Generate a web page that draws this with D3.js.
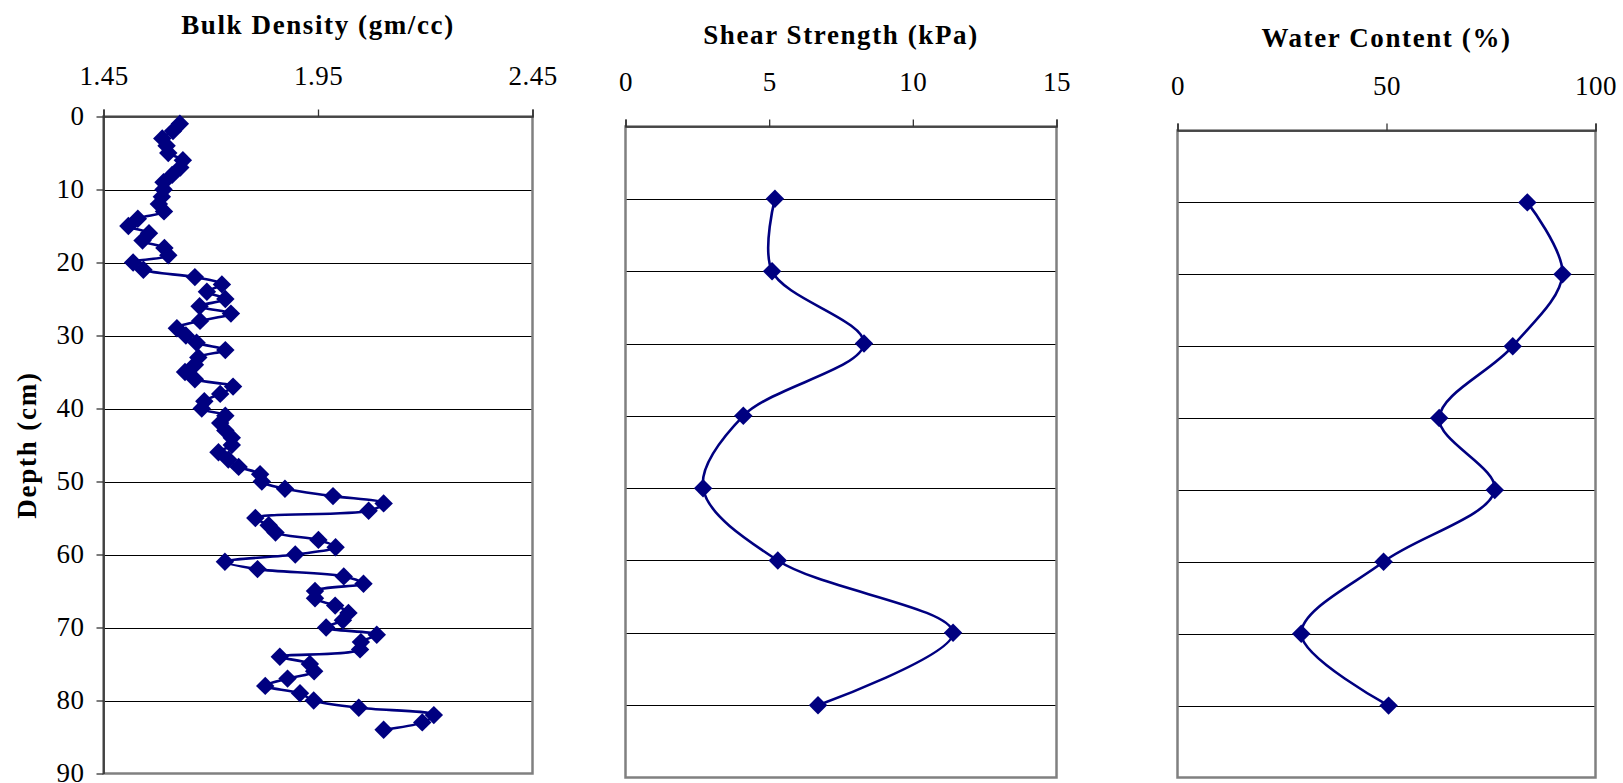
<!DOCTYPE html>
<html>
<head>
<meta charset="utf-8">
<script src="https://cdn.jsdelivr.net/npm/d3@7"></script>
<style>
	body { margin: 0; background: #fff; }
	text { font-family: "Liberation Serif", "Times New Roman", serif; fill: #000; }
</style>
</head>
<body>
<svg id="chart" width="1623" height="783"></svg>
<script>
// depth (cm) of each bulk density sample
const bulkDepth = [1, 2, 3, 4, 5, 6, 7, 8, 9, 10, 11, 12, 13, 14, 15, 16, 17, 18, 19, 20,
	21, 22, 23, 24, 25, 26, 27, 28, 29, 30, 31, 32, 33, 34, 35, 36, 37, 38, 39, 40,
	41, 42, 43, 44, 45, 46, 47, 48, 49, 50, 51, 52, 53, 54, 55, 56, 57, 58, 59, 60,
	61, 62, 63, 64, 65, 66, 67, 68, 69, 70, 71, 72, 73, 74, 75, 76, 77, 78, 79, 80,
	81, 82, 83, 84];
const bulkDensity = [1.628, 1.612, 1.587, 1.597, 1.601, 1.635, 1.629, 1.610, 1.590, 1.590,
	1.586, 1.579, 1.591, 1.530, 1.508, 1.556, 1.541, 1.592, 1.601, 1.519,
	1.543, 1.663, 1.726, 1.691, 1.734, 1.674, 1.747, 1.675, 1.621, 1.642,
	1.667, 1.734, 1.671, 1.663, 1.640, 1.663, 1.752, 1.722, 1.685, 1.679,
	1.734, 1.722, 1.734, 1.749, 1.749, 1.718, 1.741, 1.765, 1.815, 1.819,
	1.873, 1.985, 2.103, 2.068, 1.804, 1.835, 1.851, 1.951, 1.991, 1.897,
	1.733, 1.809, 2.010, 2.056, 1.943, 1.943, 1.990, 2.021, 2.008, 1.969,
	2.087, 2.050, 2.048, 1.861, 1.931, 1.941, 1.879, 1.827, 1.908, 1.940,
	2.045, 2.220, 2.193, 2.103];
const bulkTicks = [1.45, 1.95, 2.45];

const shearDepth = [10, 20, 30, 40, 50, 60, 70, 80];
const shearStrength = [5.2, 5.1, 8.3, 4.1, 2.7, 5.3, 11.4, 6.7];
const shearTicks = [0, 5, 10, 15];

const waterDepth = [10, 20, 30, 40, 50, 60, 70, 80];
const waterContent = [83.7, 92.1, 80.2, 62.6, 75.9, 49.3, 29.6, 50.5];
const waterTicks = [0, 50, 100];

const depthTicks = [0, 10, 20, 30, 40, 50, 60, 70, 80, 90];

const navy = "#000080";
const serif = "'Liberation Serif', 'Times New Roman', serif";

const panels = [
	{
		title: "Bulk Density (gm/cc)", depth: bulkDepth, values: bulkDensity,
		domain: [1.45, 2.45], ticks: bulkTicks, format: d3.format(".2f"),
		left: 103.5, right: 532.5, top: 116.5, bottom: 773.5,
		titleY: 34, tickY: 85, depthAxis: true
	},
	{
		title: "Shear Strength (kPa)", depth: shearDepth, values: shearStrength,
		domain: [0, 15], ticks: shearTicks, format: d3.format("d"),
		left: 625.5, right: 1056.5, top: 126.5, bottom: 777.5,
		titleY: 44, tickY: 91, depthAxis: false
	},
	{
		title: "Water Content (%)", depth: waterDepth, values: waterContent,
		domain: [0, 100], ticks: waterTicks, format: d3.format("d"),
		left: 1177.5, right: 1595.5, top: 130.5, bottom: 777.5,
		titleY: 47, tickY: 95, depthAxis: false
	}
];

const svg = d3.select("#chart");

svg.append("rect")
	.attr("width", 1623)
	.attr("height", 783)
	.attr("fill", "#fff");

function drawPanel(p) {
	const x = d3.scaleLinear().domain(p.domain).range([p.left, p.right]);
	const y = d3.scaleLinear().domain([0, 90]).range([p.top, p.bottom]);
	const g = svg.append("g");

	// horizontal gridlines, snapped to whole pixels so they stay black
	g.append("g")
		.selectAll("line")
		.data(depthTicks.filter(d => d > 0 && d < 90))
		.join("line")
		.attr("x1", p.left)
		.attr("x2", p.right)
		.attr("y1", d => Math.round(y(d)) + 0.5)
		.attr("y2", d => Math.round(y(d)) + 0.5)
		.attr("stroke", "#000")
		.attr("stroke-width", 1);

	g.append("rect")
		.attr("x", p.left)
		.attr("y", p.top)
		.attr("width", p.right - p.left)
		.attr("height", p.bottom - p.top)
		.attr("fill", "none")
		.attr("stroke", "#808080")
		.attr("stroke-width", 2.5);

	const xAxis = g.append("g")
		.attr("transform", `translate(0,${p.top})`)
		.style("color", "#333")
		.call(d3.axisTop(x).tickValues(p.ticks).tickSize(7).tickSizeOuter(7).tickFormat(p.format));

	xAxis.select(".domain").attr("stroke-width", 1.6);
	xAxis.selectAll(".tick line").attr("stroke-width", 1.3);
	xAxis.selectAll(".tick text")
		.attr("y", p.tickY - p.top)
		.attr("dy", 0)
		.attr("font-size", 27)
		.attr("letter-spacing", 0.5)
		.style("font-family", serif)
		.attr("fill", "#000");

	if (p.depthAxis) {
		const yAxis = g.append("g")
			.attr("transform", `translate(${p.left},0)`)
			.style("color", "#333")
			.call(d3.axisLeft(y).tickValues(depthTicks).tickSize(7).tickSizeOuter(0).tickPadding(12));

		yAxis.select(".domain").attr("stroke-width", 1.6);
		yAxis.selectAll(".tick line").attr("stroke-width", 1.3);
		yAxis.selectAll(".tick text")
			.attr("dy", "0.3em")
			.attr("font-size", 27)
			.attr("letter-spacing", 0.5)
			.style("font-family", serif)
			.attr("fill", "#000");

		g.append("text")
			.attr("transform", `translate(27,${(p.top + p.bottom) / 2}) rotate(-90)`)
			.attr("text-anchor", "middle")
			.attr("dy", "0.35em")
			.attr("font-size", 27)
			.attr("font-weight", "bold")
			.attr("letter-spacing", 1.8)
			.text("Depth (cm)");
	}

	g.append("text")
		.attr("x", (p.left + p.right) / 2)
		.attr("y", p.titleY)
		.attr("text-anchor", "middle")
		.attr("font-size", 27)
		.attr("font-weight", "bold")
		.attr("letter-spacing", 1.6)
		.text(p.title);

	const points = p.depth.map((d, i) => ({ depth: d, value: p.values[i] }));

	const line = d3.line()
		.x(d => x(d.value))
		.y(d => y(d.depth))
		.curve(d3.curveCatmullRom);

	g.append("path")
		.datum(points)
		.attr("d", line)
		.attr("fill", "none")
		.attr("stroke", navy)
		.attr("stroke-width", 2.6);

	const diamond = d3.symbol().type(d3.symbolSquare).size(170);

	g.append("g")
		.selectAll("path")
		.data(points)
		.join("path")
		.attr("d", diamond)
		.attr("transform", d => `translate(${x(d.value)},${y(d.depth)}) rotate(45)`)
		.attr("fill", navy);
}

panels.forEach(drawPanel);
</script>
</body>
</html>
